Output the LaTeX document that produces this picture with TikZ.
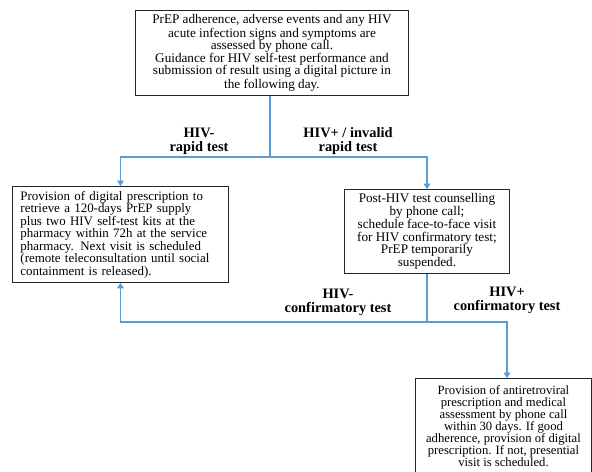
\documentclass[tikz,border=0pt]{standalone}
\usepackage{fontspec}
\setmainfont{Liberation Serif}
\usetikzlibrary{arrows.meta,positioning,calc}
\definecolor{linkblue}{HTML}{5B9BD5}
\tikzset{
  box/.style={draw=black!85, line width=0.7pt, inner sep=1pt, anchor=north west},
  lbl/.style={font=\fontsize{10.8}{10.6}\selectfont\bfseries, align=center, inner sep=0pt},
  conn/.style={draw=linkblue, line width=0.8pt},
  arr/.style={conn, -{Triangle[length=4pt,width=5pt]}}
}
\begin{document}
\begin{tikzpicture}[x=0.75pt,y=-0.75pt]
\useasboundingbox (0,0) rectangle (592,471);
\node[box, font=\fontsize{9.9}{9.1}\selectfont, minimum width=204.75pt, minimum height=63.75pt, align=center] (top) at (135,10)
  {PrEP adherence, adverse events and any HIV\\
   acute infection signs and symptoms are\\
   assessed by phone call.\\
   Guidance for HIV self-test performance and\\
   submission of result using a digital picture in\\
   the following day.};
\node[box, font=\fontsize{9.7}{9.4}\selectfont, minimum width=162pt, minimum height=72pt, text width=150pt, align=left] (left) at (12,186)
  {Provision of digital prescription to\\
   retrieve a 120-days PrEP supply\\
   plus two HIV self-test kits at the\\
   pharmacy within 72h at the service\\
   pharmacy. Next visit is scheduled\\
   (remote teleconsultation until social\\
   containment is released).};
\node[box, font=\fontsize{9.9}{9.6}\selectfont, minimum width=123.75pt, minimum height=63pt, align=center] (right) at (344,189)
  {Post-HIV test counselling\\
   by phone call;\\
   schedule face-to-face visit\\
   for HIV confirmatory test;\\
   PrEP temporarily\\
   suspended.};
\node[box, font=\fontsize{9.5}{9.0}\selectfont, minimum width=132pt, minimum height=72pt, align=center] (bot) at (415,378)
  {Provision of antiretroviral\\
   prescription and medical\\
   assessment by phone call\\
   within 30 days. If good\\
   adherence, provision of digital\\
   prescription. If not, presential\\
   visit is scheduled.};

\coordinate (j1) at (270,157);
\coordinate (j2) at (427,322);
\coordinate (e1) at (507,322);

\draw[conn] (top.south -| j1) -- (j1);
\draw[arr] (j1) -| (left.north);
\draw[arr] (j1) -| (right.north);
\draw[conn] (right.south) -- (right.south |- j2);
\draw[arr] (j2) -| (left.south);
\draw[arr] (j2) -- (e1) -- (e1 |- bot.north);

\node[lbl] (l1) at (199,141) {HIV-\\rapid test};
\node[lbl] (l2) at (348,141) {HIV+ / invalid\\rapid test};
\node[lbl] (l3) at (338,302) {HIV-\\confirmatory test};
\node[lbl] (l4) at (507,300) {HIV+\\confirmatory test};
\end{tikzpicture}
\end{document}
